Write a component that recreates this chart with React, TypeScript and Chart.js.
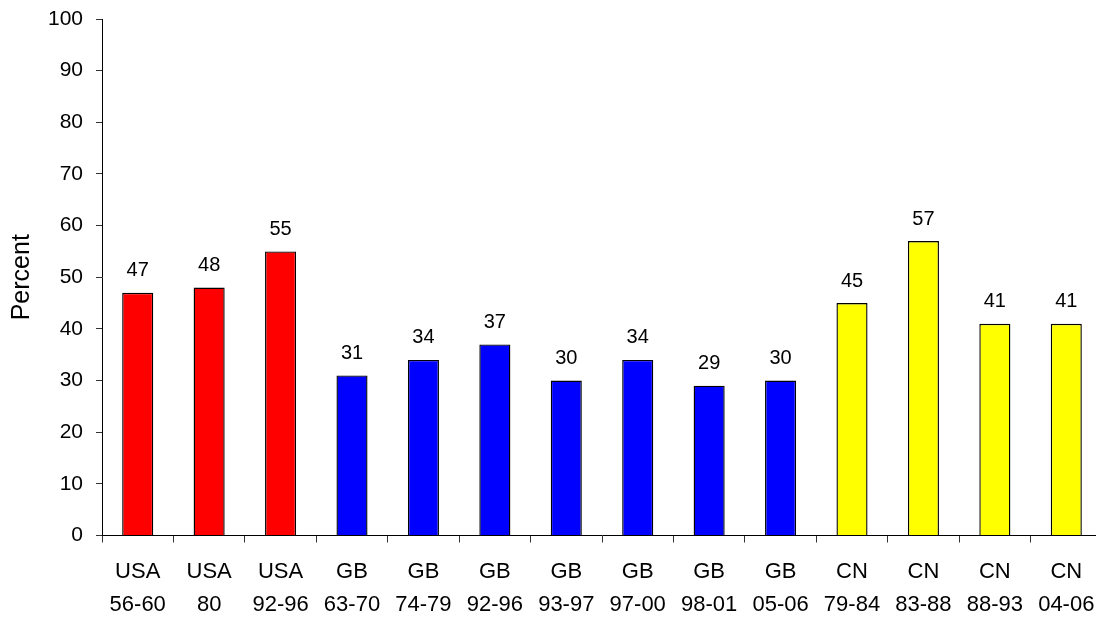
import React, { useEffect, useRef } from "react";
import { Chart, registerables } from "chart.js";

Chart.register(...registerables);

const regions = ["USA", "USA", "USA", "GB", "GB", "GB", "GB", "GB", "GB", "GB", "CN", "CN", "CN", "CN"];
const periods = ["56-60", "80", "92-96", "63-70", "74-79", "92-96", "93-97", "97-00", "98-01", "05-06", "79-84", "83-88", "88-93", "04-06"];
const percentValues = [47, 48, 55, 31, 34, 37, 30, 34, 29, 30, 45, 57, 41, 41];
const regionColors: Record<string, string> = { USA: "#FF0000", GB: "#0000FF", CN: "#FFFF00" };
const yTicks = [0, 10, 20, 30, 40, 50, 60, 70, 80, 90, 100];

const FONT = "Arial, 'Liberation Sans', sans-serif";

const valueLabels = {
  id: "valueLabels",
  afterDatasetsDraw(chart: any) {
    const ctx = chart.ctx;
    const meta = chart.getDatasetMeta(0);
    ctx.save();
    ctx.font = `20px ${FONT}`;
    ctx.fillStyle = "#000";
    ctx.textAlign = "center";
    ctx.textBaseline = "bottom";
    meta.data.forEach((bar: any, i: number) => {
      ctx.fillText(String(percentValues[i]), bar.x, bar.y - 12);
    });
    ctx.restore();
  },
};

export default function App() {
  const ref = useRef<HTMLCanvasElement>(null);
  useEffect(() => {
    if (!ref.current) return;
    const chart = new Chart(ref.current, {
      type: "bar",
      data: {
        labels: regions.map((r, i) => [r, periods[i]]),
        datasets: [
          {
            data: percentValues,
            backgroundColor: regions.map((r) => regionColors[r]),
            borderColor: "#000",
            borderWidth: 1.4,
            categoryPercentage: 1,
            barPercentage: 0.435,
          },
        ],
      },
      options: {
        animation: false,
        responsive: false,
        maintainAspectRatio: false,
        layout: { padding: { top: 19, left: 0, right: 0, bottom: 0 } },
        plugins: { legend: { display: false }, tooltip: { enabled: false } },
        scales: {
          x: {
            offset: true,
            grid: { offset: true, drawOnChartArea: false, tickLength: 7, color: "#333" },
            border: { color: "#000", width: 1 },
            ticks: {
              color: "#000",
              padding: 13,
              maxRotation: 0,
              autoSkip: false,
              font: { family: FONT, size: 22, lineHeight: 1.5 },
            },
            afterFit: (scale: any) => {
              scale.height = 85.5;
              scale.paddingLeft = 0;
              scale.paddingRight = 0;
            },
          },
          y: {
            min: 0,
            max: 100,
            afterBuildTicks: (scale: any) => {
              scale.ticks = yTicks.map((v) => ({ value: v }));
            },
            grid: { drawOnChartArea: false, tickLength: 6, color: "#333" },
            border: { color: "#000", width: 1 },
            ticks: {
              color: "#000",
              padding: 13,
              font: { family: FONT, size: 21 },
            },
            title: {
              display: true,
              text: "Percent",
              color: "#000",
              font: { family: FONT, size: 25 },
              padding: { top: 7, bottom: 0 },
            },
            afterFit: (scale: any) => {
              scale.width = 102;
              scale.paddingTop = 0;
              scale.paddingBottom = 0;
            },
          },
        },
      },
      plugins: [valueLabels],
    });
    return () => chart.destroy();
  }, []);

  return (
    <div style={{ position: "fixed", left: 0, top: 0, width: 1096, height: 621, overflow: "hidden", background: "#fff" }}>
      <canvas ref={ref} width={1102} height={621} style={{ display: "block" }} />
    </div>
  );
}
